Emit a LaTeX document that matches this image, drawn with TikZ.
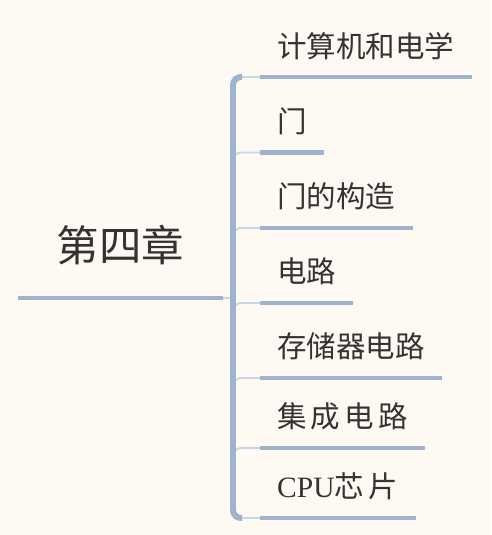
\documentclass[tikz,border=0pt]{standalone}
\usepackage{fontspec}
\setmainfont{Liberation Serif}
\newfontfamily\cjk{Noto Sans CJK SC}
\usepackage{xcolor}
\usepackage{tikz}
\usetikzlibrary{positioning, calc}
\definecolor{mmcream}{HTML}{FEFAF3}
\definecolor{mmblue}{HTML}{9EB4CE}
\definecolor{mmpale}{HTML}{C8D5E3}
\definecolor{mmink}{HTML}{333333}

\begin{document}
\begin{tikzpicture}[
  x=0.02cm, y=-0.02cm,
  topic/.style={anchor=south west, inner ysep=0pt, inner xsep=#1,
    text=mmink, font=\cjk},
  chapter/.style={topic=21.8pt, minimum height=60.1pt,
    font=\cjk\fontsize{24.2pt}{28pt}\selectfont},
  subtopic/.style={topic=9.6pt, minimum height=35.2pt,
    font=\cjk\fontsize{16.8pt}{20pt}\selectfont},
  underline/.style={line width=2.3pt, mmblue},
  twig/.style={line width=1.1pt, mmpale, rounded corners=4.5pt},
  trunk/.style={line width=3.4pt, mmblue, rounded corners=4.5pt},
]
  \fill[mmcream] (0,0) rectangle (491,535);
  \useasboundingbox (0,0) rectangle (491,535);

  \node[chapter] (ch4) at (18,298) {第四章};

  \node[subtopic] (b1) at (260,77) {计算机和电学};
  \node[subtopic] (b2) at (260,152.5) {门};
  \node[subtopic] (b3) at (260,228) {门的构造};
  \node[subtopic] (b4) at (260,303) {电路};
  \node[subtopic] (b5) at (260,378) {存储器电路};
  \node[subtopic] (b6) at (260,448) {\addfontfeature{LetterSpace=14}集成电路};
  \node[subtopic] (b7) at (260,518) {{\normalfont CPU}\addfontfeature{LetterSpace=16}芯片};

  \coordinate (tr) at (233,0);

  % thin links from the trunk
  \draw[twig] (ch4.south east) -- (tr |- ch4.south east);
  \draw[twig] (tr |- b1.south west) -- (b1.south west);
  \draw[twig] (tr |- b2.south west) ++(0,10) |- (b2.south west);
  \draw[twig] (tr |- b3.south west) ++(0,10) |- (b3.south west);
  \draw[twig] (tr |- b4.south west) ++(0,10) |- (b4.south west);
  \draw[twig] (tr |- b5.south west) ++(0,10) |- (b5.south west);
  \draw[twig] (tr |- b6.south west) ++(0,10) |- (b6.south west);
  \draw[twig] (tr |- b7.south west) -- (b7.south west);

  \draw[trunk] (tr |- b1.south west) ++(9,0) -| (tr |- b7.south west) -- ++(9,0);

  % underlines
  \draw[underline] (ch4.south west) -- (ch4.south east);
  \draw[underline] (b1.south west) -- (b1.south east);
  \draw[underline] (b2.south west) -- (b2.south east);
  \draw[underline] (b3.south west) -- (b3.south east);
  \draw[underline] (b4.south west) -- (b4.south east);
  \draw[underline] (b5.south west) -- (b5.south east);
  \draw[underline] (b6.south west) -- (b6.south east);
  \draw[underline] (b7.south west) -- (b7.south east);
\end{tikzpicture}
\end{document}
